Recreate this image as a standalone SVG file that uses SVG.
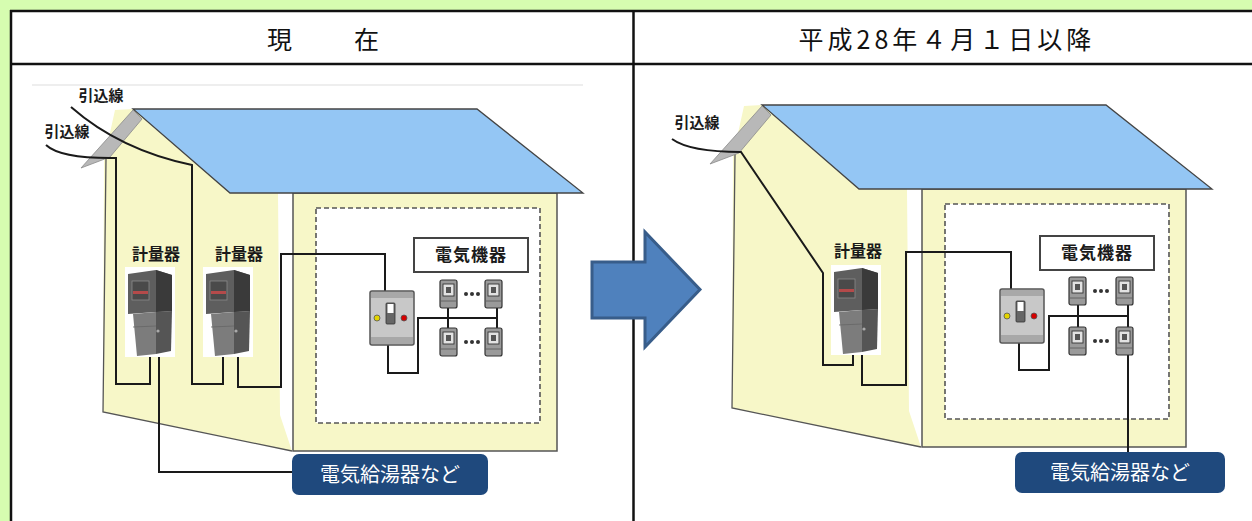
<svg xmlns="http://www.w3.org/2000/svg" width="1252" height="521" viewBox="0 0 1252 521">
<style>
.wire{fill:none;stroke:#1a1a1a;stroke-width:2;stroke-linejoin:miter}
.lbl{font-family:"Noto Sans CJK JP","Noto Sans",sans-serif;font-weight:bold;fill:#1a1a1a;text-anchor:middle}
.hdr{font-family:"Noto Sans CJK JP","Noto Sans",sans-serif;font-size:25px;fill:#111;text-anchor:middle}
.tag{font-family:"Noto Sans CJK JP","Noto Sans",sans-serif;font-size:20px;fill:#fff;text-anchor:middle}
.wall{fill:#f7f7c8}
</style>
<defs>
<g id="houseShell">
<polygon class="wall" points="104,160 115,110 133,109 230,193 278,193 280,415 292,451 103,412"/>
<path d="M106,158 L103,412 L292,451" fill="none" stroke="#555" stroke-width="1.3"/>
<rect class="wall" x="293" y="193" width="264" height="258" stroke="#555" stroke-width="1.5"/>
<polygon points="133,109 477,109 583,193 230,193" fill="#94c6f4" stroke="#444" stroke-width="1.3"/>
<polygon points="133,110 142,119 110,157 81,168" fill="#b8b8b8" stroke="#8a8a8a" stroke-width="0.8"/>
<rect x="316" y="208" width="224" height="215" fill="#fff" stroke="#555" stroke-width="1.6" stroke-dasharray="5 3"/>
</g>
<g id="meter">
<rect x="0" y="0" width="50" height="90" fill="#fff"/>
<polygon points="3,7 31,3 47,8 47,44 31,45 3,47" fill="#5e5e5e"/>
<polygon points="31,3 47,8 47,44 31,45" fill="#3a3a3a"/>
<rect x="7" y="14" width="17" height="19" fill="#4a4a4a" stroke="#8a8a8a" stroke-width="0.8"/>
<rect x="8" y="24" width="15" height="3" fill="#b44a4a"/>
<polygon points="8,47 31,45 31,87 12,89" fill="#7c7c7c"/>
<polygon points="31,45 47,44 46,84 31,87" fill="#555"/>
<line x1="8" y1="60" x2="31" y2="59" stroke="#666" stroke-width="0.8"/>
<circle cx="33" cy="64" r="1.6" fill="#aaa"/>
</g>
<g id="breaker">
<rect x="0" y="0" width="17" height="28" rx="2" fill="#9a9a9a" stroke="#333" stroke-width="1.2"/>
<rect x="3" y="4" width="11" height="12" fill="#e2e2e2" stroke="#333" stroke-width="0.9"/>
<rect x="6" y="7" width="5" height="6" fill="#555"/>
<line x1="1" y1="21" x2="16" y2="21" stroke="#555" stroke-width="0.8"/>
</g>
<g id="panel">
<rect x="0" y="0" width="44" height="54" rx="2" fill="#c8c8c8" stroke="#555" stroke-width="1.5"/>
<rect x="1" y="1" width="42" height="6" fill="#a8a8a8"/>
<rect x="1" y="46" width="42" height="7" fill="#a8a8a8"/>
<circle cx="7" cy="27" r="3" fill="#e3d400" stroke="#555" stroke-width="0.8"/>
<circle cx="34" cy="27" r="3" fill="#d40000" stroke="#555" stroke-width="0.8"/>
<rect x="16" y="12" width="9" height="21" rx="1" fill="#666" stroke="#333" stroke-width="0.8"/>
<rect x="17.5" y="13" width="6" height="9" fill="#fff"/>
</g>
<g id="dots"><circle cx="0" cy="0" r="2" fill="#333"/><circle cx="6" cy="0" r="2" fill="#333"/><circle cx="12" cy="0" r="2" fill="#333"/></g>
</defs>

<rect x="0" y="0" width="1252" height="521" fill="#d6fdb0"/>
<rect x="10" y="10" width="1250" height="520" fill="#fff"/>

<g id="table">
<line x1="10" y1="11" x2="1252" y2="11" stroke="#111" stroke-width="2.5"/>
<line x1="10" y1="64" x2="1252" y2="64" stroke="#111" stroke-width="2.5"/>
<line x1="11" y1="10" x2="11" y2="521" stroke="#111" stroke-width="2.5"/>
<line x1="633.5" y1="10" x2="633.5" y2="521" stroke="#111" stroke-width="2.5"/>
<text class="hdr" x="325" y="49" letter-spacing="4">現　　在</text>
<text class="hdr" x="947" y="49" font-size="26" letter-spacing="4">平成28年４月１日以降</text>
</g>

<line x1="32" y1="85" x2="583" y2="85" stroke="#ddd" stroke-width="1"/>

<g id="house-now"><use href="#houseShell"/></g>
<g id="house-future"><use href="#houseShell" transform="translate(629,-4)"/></g>

<g id="connectors">
<path class="wire" d="M71,107 Q120,150 192,165 L192,384 L223,384 L223,353"/>
<path class="wire" d="M238,353 L238,387 L281,387 L281,254 L385,254 L385,291"/>
<path class="wire" d="M46,145 Q60,158 110,158 L116,158 L116,384 L150,384 L150,353"/>
<path class="wire" d="M159,353 L159,472 L292,472"/>
<path class="wire" d="M388,345 L388,373 L418,373 L418,318 L497,318"/>
<path class="wire" d="M448,308 L448,328 M497,308 L497,328"/>
<path class="wire" d="M672,139 Q690,152 741,152 L823,273 L823,365 L853,365 L853,353"/>
<path class="wire" d="M862,353 L862,385 L906,385 L906,252 L1011,252 L1011,289"/>
<path class="wire" d="M1019,342 L1019,370 L1049,370 L1049,316 L1128,316"/>
<path class="wire" d="M1078,305 L1078,327 M1128,305 L1128,327 M1128,354 L1128,452"/>
</g>

<g id="leadin-now-1"><text class="lbl" x="101" y="101" font-size="15">引込線</text></g>
<g id="leadin-now-2"><text class="lbl" x="67" y="137" font-size="15">引込線</text></g>
<g id="leadin-future"><text class="lbl" x="697" y="128" font-size="15">引込線</text></g>

<g id="meter-now-1">
<text class="lbl" x="156" y="260" font-size="16">計量器</text>
<use href="#meter" x="125" y="267"/>
</g>
<g id="meter-now-2">
<text class="lbl" x="239" y="260" font-size="16">計量器</text>
<use href="#meter" x="203" y="267"/>
</g>
<g id="meter-future">
<text class="lbl" x="858" y="257" font-size="16">計量器</text>
<use href="#meter" x="831" y="265"/>
</g>

<g id="panel-now"><use href="#panel" x="370" y="291"/></g>
<g id="panel-future"><use href="#panel" x="1000" y="289"/></g>

<g id="devices-now">
<rect x="414" y="238" width="114" height="34" fill="#fff" stroke="#444" stroke-width="2"/>
<text class="lbl" x="471" y="261" font-size="17" letter-spacing="1">電気機器</text>
<use href="#breaker" x="440" y="280"/>
<use href="#breaker" x="485" y="280"/>
<use href="#breaker" x="440" y="328"/>
<use href="#breaker" x="485" y="328"/>
<use href="#dots" x="466" y="294"/>
<use href="#dots" x="466" y="342"/>
</g>
<g id="devices-future">
<rect x="1040" y="236" width="114" height="34" fill="#fff" stroke="#444" stroke-width="2"/>
<text class="lbl" x="1097" y="259" font-size="17" letter-spacing="1">電気機器</text>
<use href="#breaker" x="1069" y="277"/>
<use href="#breaker" x="1116" y="277"/>
<use href="#breaker" x="1069" y="327"/>
<use href="#breaker" x="1116" y="327"/>
<use href="#dots" x="1095" y="291"/>
<use href="#dots" x="1095" y="341"/>
</g>

<g id="heater-now">
<rect x="292" y="454" width="196" height="41" rx="7" fill="#1f497d"/>
<text class="tag" x="390" y="482">電気給湯器など</text>
</g>
<g id="heater-future">
<rect x="1015" y="452" width="210" height="41" rx="7" fill="#1f497d"/>
<text class="tag" x="1120" y="480">電気給湯器など</text>
</g>

<g id="arrow">
<polygon points="592,262 645,262 645,232 700,289.5 645,347 645,318 592,318" fill="#4f81bd" stroke="#385d8a" stroke-width="3" stroke-linejoin="miter"/>
</g>
</svg>
